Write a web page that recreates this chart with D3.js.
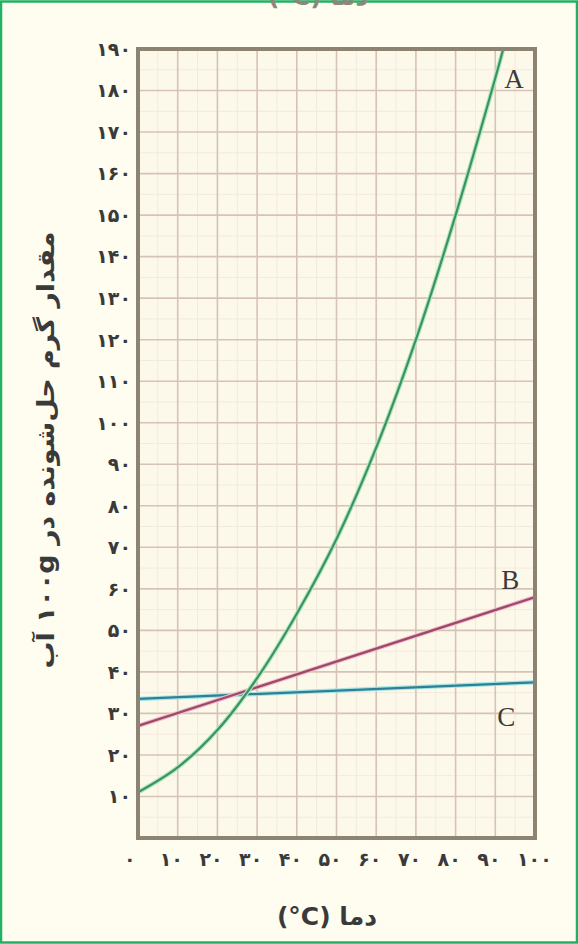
<!DOCTYPE html>
<html><head><meta charset="utf-8">
<script src="https://cdn.jsdelivr.net/npm/d3@7"></script>
<style>
html,body{margin:0;padding:0;background:#fefdf0;}
svg{display:block;}
</style></head>
<body>
<script>
// ---- data ----
const temps = [0,10,20,30,40,50,60,70,80,90,92];
const seriesA = [11,17,26,38.5,54,72,94,120,150,183,190];
const tempsB = [0,100];
const seriesB = [27,58];
const tempsC = [0,100];
const seriesC = [33.5,37.5];
const yTicks = [10,20,30,40,50,60,70,80,90,100,110,120,130,140,150,160,170,180,190];
const xTicks = [0,10,20,30,40,50,60,70,80,90,100];
const yTitle = "مقدار گرم حل‌شونده در ۱۰۰g آب";
const xTitle = "(°C) دما";

const W = 578, H = 944;
const fa = n => String(n).replace(/\d/g, d => "۰۱۲۳۴۵۶۷۸۹"[d]);

const svg = d3.select("body").append("svg").attr("width", W).attr("height", H);
svg.append("rect").attr("x",1).attr("y",1.5).attr("width",W-2).attr("height",H-3)
  .attr("fill","#fefdf0").attr("stroke","#22b163").attr("stroke-width",2.5);

const x = d3.scaleLinear().domain([0,100]).range([138,535]);
const y = d3.scaleLinear().domain([0,190]).range([838,49]);

// plot background
svg.append("rect").attr("x",x(0)).attr("y",y(190)).attr("width",x(100)-x(0)).attr("height",y(0)-y(190))
  .attr("fill","#fdf9ea");

// minor grid
const g = svg.append("g");
d3.range(5,100,10).forEach(t => g.append("line").attr("x1",x(t)).attr("x2",x(t)).attr("y1",y(0)).attr("y2",y(190))
  .attr("stroke","#f3e9de").attr("stroke-width",1));
d3.range(5,190,10).forEach(t => g.append("line").attr("x1",x(0)).attr("x2",x(100)).attr("y1",y(t)).attr("y2",y(t))
  .attr("stroke","#f3e9de").attr("stroke-width",1));
// major grid
xTicks.slice(1,-1).forEach(t => g.append("line").attr("x1",x(t)).attr("x2",x(t)).attr("y1",y(0)).attr("y2",y(190))
  .attr("stroke","#d6c3b6").attr("stroke-width",1.6));
yTicks.slice(0,-1).forEach(t => g.append("line").attr("x1",x(0)).attr("x2",x(100)).attr("y1",y(t)).attr("y2",y(t))
  .attr("stroke","#d6c3b6").attr("stroke-width",1.6));

// lines
const line = d3.line().curve(d3.curveCatmullRom.alpha(0.5));
function drawSeries(xs, ys, halo, core) {
  const pts = xs.map((t,i) => [x(t), y(ys[i])]);
  svg.append("path").attr("d", line(pts)).attr("fill","none").attr("stroke",halo).attr("stroke-width",4.5).attr("stroke-linecap","round");
  svg.append("path").attr("d", line(pts)).attr("fill","none").attr("stroke",core).attr("stroke-width",2.2).attr("stroke-linecap","round");
}
drawSeries(tempsC, seriesC, "#a6e6e2", "#2f8096");
drawSeries(tempsB, seriesB, "#f2bed0", "#9d4a68");
drawSeries(temps, seriesA, "#aee8c3", "#3f925e");

// frame
svg.append("rect").attr("x",x(0)).attr("y",y(190)).attr("width",x(100)-x(0)).attr("height",y(0)-y(190))
  .attr("fill","none").attr("stroke","#8c8373").attr("stroke-width",4);

// y tick labels
svg.append("g").selectAll("text").data(yTicks).join("text")
  .attr("x",131).attr("y",d => y(d)).attr("dy","0.36em")
  .attr("text-anchor","end").attr("font-family","DejaVu Sans").attr("font-weight","bold")
  .attr("font-size",19).attr("fill","#3a3a3a").text(d => fa(d));

// x tick labels
svg.append("g").selectAll("text").data(xTicks).join("text")
  .attr("x",d => d === 0 ? x(d) - 14 : x(d) - 18).attr("y",866)
  .attr("text-anchor","start").attr("font-family","DejaVu Sans").attr("font-weight","bold")
  .attr("font-size",19).attr("fill","#3a3a3a").text(d => fa(d));

// series labels
const lab = (t, px, py) => svg.append("text").attr("x",px).attr("y",py)
  .attr("font-family","Liberation Serif").attr("font-size",27).attr("fill","#3b3b3b").text(t);
lab("A", x(92)+1, y(180.5));
lab("B", x(91.5), y(60));
lab("C", x(90.5), y(27));

// axis titles
svg.append("text").attr("transform","translate(54,450) rotate(-90) scale(1.12,1)")
  .attr("direction","rtl").attr("text-anchor","middle")
  .attr("font-family","DejaVu Sans").attr("font-size",24).attr("font-weight","bold").attr("fill","#3a3a3a")
  .text(yTitle);
svg.append("text").attr("x",327).attr("y",925).attr("text-anchor","middle")
  .attr("font-family","DejaVu Sans").attr("font-size",25).attr("font-weight","bold").attr("fill","#3a3a3a")
  .text(xTitle);
// clipped title of chart above (only its lower edge is visible)
svg.append("text").attr("x",318).attr("y",5).attr("text-anchor","middle")
  .attr("font-family","DejaVu Sans").attr("font-size",25).attr("font-weight","bold").attr("fill","#8a877c")
  .text(xTitle);
</script>
</body></html>
